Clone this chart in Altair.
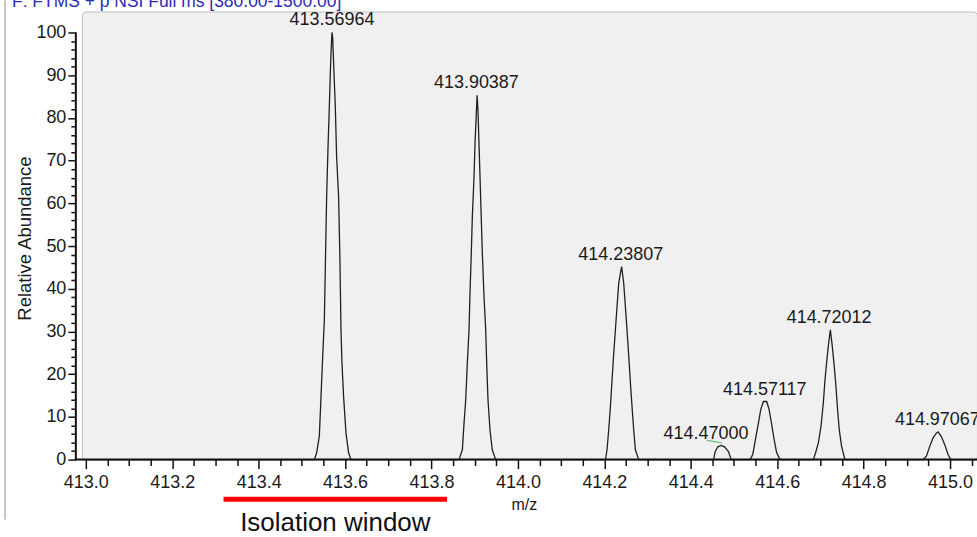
import altair as alt
import pandas as pd

# ---------------- data ----------------
p1_mz = [413.5289, 413.5342, 413.5404, 413.5443, 413.5480, 413.5520, 413.5543, 413.5573, 413.5605,
         413.5635, 413.5658, 413.5674, 413.5696, 413.5712, 413.5744, 413.5774, 413.5804, 413.5850,
         413.5882, 413.5905, 413.5928, 413.5965, 413.6021, 413.6081, 413.6136]
p1_int = [0, 1.6, 5.5, 14.8, 23.8, 32.7, 45.2, 61.5, 73.2, 82.5, 90.3, 95.0, 100, 98.9, 90.3, 82.5,
          70.9, 61.5, 46.0, 30.4, 22.6, 14.8, 6.2, 1.6, 0]

p2_mz = [413.8637, 413.8714, 413.8753, 413.8792, 413.8829, 413.8868, 413.8891, 413.8921, 413.8945,
         413.8984, 413.9007, 413.9037, 413.9055, 413.9076, 413.9099, 413.9122, 413.9176, 413.9215,
         413.9254, 413.9277, 413.9307, 413.9353, 413.9406, 413.9485]
p2_int = [0, 2.3, 8.6, 14.0, 22.6, 30.4, 39.0, 48.3, 56.9, 66.3, 74.0, 81.0, 85.3, 81.6, 73.8, 66.4,
          48.3, 38.2, 30.4, 22.6, 14.0, 7.0, 2.3, 0]

p3_mz = [414.2025, 414.2062, 414.2101, 414.2141, 414.2178, 414.2217, 414.2256, 414.2293, 414.2333,
         414.2372, 414.2400, 414.2448, 414.2487, 414.2524, 414.2564, 414.2603, 414.2640, 414.2679,
         414.2718, 414.2794]
p3_int = [0, 2.3, 7.0, 12.5, 18.7, 24.9, 30.4, 35.8, 41.3, 43.6, 45.2, 41.3, 35.8, 30.4, 24.3, 18.0,
          12.5, 7.0, 2.3, 0]

p4_mz = [414.4527, 414.4566, 414.4626, 414.4704, 414.4781, 414.4873, 414.4935]
p4_int = [0, 1.9, 3.0, 3.3, 3.0, 1.9, 0]

p5_mz = [414.5374, 414.5434, 414.5490, 414.5566, 414.5619, 414.5681, 414.5758, 414.5813, 414.5873,
         414.5935, 414.5988, 414.6067]
p5_int = [0, 1.2, 4.3, 8.6, 11.7, 13.6, 13.6, 11.7, 8.2, 4.3, 1.6, 0]

p6_mz = [414.6836, 414.6889, 414.6952, 414.7014, 414.7067, 414.7106, 414.7143, 414.7182, 414.7230,
         414.7275, 414.7321, 414.7360, 414.7397, 414.7436, 414.7490, 414.7568]
p6_int = [0, 1.6, 3.9, 7.8, 13.2, 18.7, 22.6, 26.5, 30.4, 26.5, 21.8, 17.1, 11.7, 7.0, 3.1, 0]

p7_mz = [414.9376, 414.9453, 414.9531, 414.9607, 414.9684, 414.9723, 414.9799, 414.9878, 414.9954,
         415.0016]
p7_int = [0, 0.8, 3.1, 5.1, 6.2, 6.5, 5.4, 3.5, 1.2, 0]

label_text = ["413.56964", "413.90387", "414.23807", "414.47000", "414.57117", "414.72012", "414.97067"]
label_mz = [413.56964, 413.90387, 414.23807, 414.47000, 414.57117, 414.72012, 414.97067]
label_int = [100, 85.3, 45.2, 3.3, 13.6, 30.4, 6.5]

# green leader line of the 414.47000 label
leader_mz = [414.4373, 414.4720]
leader_int = [4.5, 3.9]

iso_start = [413.3187]
iso_end = [413.8360]
iso_label = ["Isolation window"]

scan_title = ["F: FTMS + p NSI Full ms [380.00-1500.00]"]

X_DOMAIN = [412.99076, 415.0624]
Y_DOMAIN = [0, 104.9]

x_tick_values = [round(413.0 + 0.05 * i, 2) for i in range(42)]
y_tick_values = list(range(0, 101, 2))

# ---------------- tables ----------------
all_mz = [X_DOMAIN[0]] + p1_mz + p2_mz + p3_mz + p4_mz + p5_mz + p6_mz + p7_mz + [X_DOMAIN[1]]
all_int = [0] + p1_int + p2_int + p3_int + p4_int + p5_int + p6_int + p7_int + [0]
spec = pd.DataFrame({"mz": all_mz, "intensity": all_int})

labels = pd.DataFrame({"mz": label_mz, "intensity": label_int, "text": label_text})
labels_main = labels[labels["text"] != "414.47000"]
labels_side = labels[labels["text"] == "414.47000"]

leader = pd.DataFrame({"mz": [leader_mz[0]], "mz2": [leader_mz[1]],
                       "intensity": [leader_int[0]], "intensity2": [leader_int[1]]})
iso = pd.DataFrame({"start": iso_start, "end": iso_end, "label": iso_label})
iso["mid"] = (iso["start"] + iso["end"]) / 2
title_df = pd.DataFrame({"t": scan_title})
one = pd.DataFrame({"a": [0]})

FONT = "Liberation Sans"

major_x = "abs(datum.value*5 - round(datum.value*5)) < 0.001"
major_y = "datum.value % 10 === 0"

x_scale = alt.Scale(domain=X_DOMAIN, nice=False, zero=False)
y_scale = alt.Scale(domain=Y_DOMAIN, nice=False, zero=True)

x_axis = alt.Axis(
    values=x_tick_values,
    labelExpr=f"{major_x} ? format(datum.value, '.1f') : ''",
    tickSize={"condition": {"test": major_x, "value": 9}, "value": 6},
    tickColor="#111111", tickWidth=1.5, domain=False, grid=False,
    labelFont=FONT, labelFontSize=18, labelColor="#1a1a1a", labelPadding=5,
    labelOverlap=False, labelFlush=False,
    title="m/z", titleFont=FONT, titleFontSize=16, titleFontWeight="normal", titleColor="#1a1a1a",
    titleX=443, titleY=50, titleAlign="center", titleBaseline="alphabetic",
)
y_axis = alt.Axis(
    values=y_tick_values,
    labelExpr=f"{major_y} ? datum.value : ''",
    tickSize={"condition": {"test": major_y, "value": 8}, "value": 5},
    tickColor="#111111", tickWidth=1.5, domain=False, grid=False, offset=6,
    labelFont=FONT, labelFontSize=18, labelColor="#1a1a1a", labelPadding=2,
    labelOverlap=False, labelFlush=False,
    title="Relative Abundance", titleFont=FONT, titleFontSize=18.5, titleFontWeight="normal",
    titleColor="#1a1a1a", titleX=-51, titleY=227, titleAlign="center", titleBaseline="middle",
)


def X(field=None, **kw):
    if field is None:
        return alt.X(scale=x_scale, axis=x_axis, **kw)
    return alt.X(field, scale=x_scale, axis=x_axis, **kw)


def Y(field=None, **kw):
    if field is None:
        return alt.Y(scale=y_scale, axis=y_axis, **kw)
    return alt.Y(field, scale=y_scale, axis=y_axis, **kw)


line = alt.Chart(spec).mark_line(color="#202020", strokeWidth=1.3).encode(
    x=X("mz:Q"), y=Y("intensity:Q"),
)

# axis lines
y_line = alt.Chart(one).mark_rule(color="#111111", strokeWidth=2).encode(
    x=alt.value(-6), y=Y(datum=0), y2=alt.Y2(datum=100)
)
x_line = alt.Chart(one).mark_rule(color="#111111", strokeWidth=2).encode(
    x=alt.value(-7), x2=alt.value(897), y=Y(datum=0)
)

peak_labels = alt.Chart(labels_main).mark_text(
    font=FONT, fontSize=18, color="#1a1a1a", baseline="alphabetic", align="center", dy=-7
).encode(x=X("mz:Q"), y=Y("intensity:Q"), text="text:N")

side_label = alt.Chart(labels_side).mark_text(
    font=FONT, fontSize=18, color="#1a1a1a", baseline="alphabetic", align="center", dy=-7, dx=-15
).encode(x=X("mz:Q"), y=Y("intensity:Q"), text="text:N")

leader_line = alt.Chart(leader).mark_rule(color="#6cc46c", strokeWidth=1.2).encode(
    x=X("mz:Q"), x2="mz2:Q", y=Y("intensity:Q"), y2="intensity2:Q"
)

iso_bar = alt.Chart(iso).mark_rule(color="#ff0000", strokeWidth=5).encode(
    x=X("start:Q"), x2="end:Q", y=alt.value(488.8)
)
iso_text = alt.Chart(iso).mark_text(
    font=FONT, fontSize=26, color="#111111", align="center", baseline="alphabetic"
).encode(x=X("mid:Q"), y=alt.value(521), text="label:N")

scan_text = alt.Chart(title_df).mark_text(
    font=FONT, fontSize=17.5, color="#2b2bb8", align="left", baseline="alphabetic"
).encode(x=alt.value(-70), y=alt.value(-4.5), text="t:N")

frame_line = alt.Chart(one).mark_rule(color="#c8c8c8", strokeWidth=2).encode(
    x=alt.value(-77), y=alt.value(-11), y2=alt.value(509)
)

chart = alt.layer(
    line, frame_line, y_line, x_line, leader_line, peak_labels, side_label,
    iso_bar, iso_text, scan_text
).properties(
    width=897, height=449,
    padding={"left": 82, "top": 11, "right": 0, "bottom": 77},
    autosize=alt.AutoSizeParams(type="none"),
    background="white",
).configure_view(
    fill="#f0f0f0", stroke="#bdbdbd", strokeWidth=1, cornerRadius=4
)

chart.save("out.html", embed_options={"renderer": "svg", "actions": False})
